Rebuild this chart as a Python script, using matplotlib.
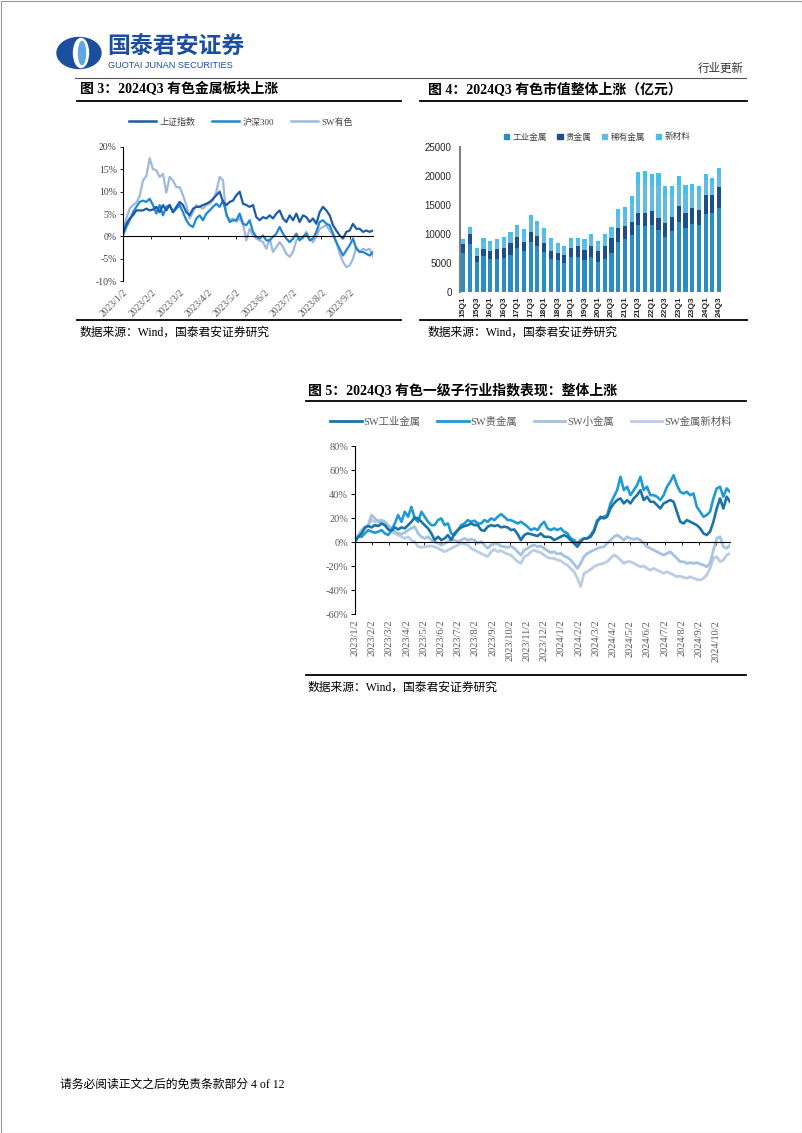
import numpy as np
import matplotlib
matplotlib.use("Agg")
import matplotlib.pyplot as plt
from matplotlib.patches import Patch, Ellipse, Rectangle
from matplotlib.lines import Line2D

W, H = 802, 1133
SERIF = ["Liberation Serif", "Noto Sans CJK SC"]
SANS = ["Liberation Sans", "Noto Sans CJK SC"]
CJK = ["Noto Sans CJK SC", "DejaVu Sans"]

# ---------------- 图3 数据 (%，2023/1/3 - 2023/9/28) ----------------
f3_ticks = ["2023/1/2", "2023/2/2", "2023/3/2", "2023/4/2", "2023/5/2",
            "2023/6/2", "2023/7/2", "2023/8/2", "2023/9/2"]
f3_end = 8.82  # 最后一个点距 2023/1/2 的月数
f3_sh = [0.6, 2.8, 4.0, 4.7, 5.8, 5.8, 5.8, 6.2, 5.8, 6.0,
         6.6, 5.4, 7.0, 5.8, 7.0, 5.4, 6.6, 7.7, 7.0, 5.4,
         4.7, 6.2, 6.6, 6.6, 7.0, 7.3, 7.7, 8.4, 9.2, 10.0,
         7.7, 7.0, 7.7, 8.0, 9.2, 10.0, 7.3, 7.0, 6.6, 7.0,
         4.3, 3.6, 4.3, 4.0, 4.7, 4.0, 5.1, 5.8, 4.0, 3.2,
         4.7, 3.6, 5.1, 3.2, 4.7, 4.3, 3.2, 4.0, 2.8, 5.4,
         6.6, 5.8, 4.7, 2.5, 1.3, 0.2, -0.5, 1.0, 1.3, 2.8,
         1.7, 1.7, 1.0, 1.3, 1.0, 1.3]
f3_hs300 = [0.2, 2.1, 3.6, 5.4, 6.6, 7.7, 8.0, 7.7, 8.4, 7.0,
            5.1, 7.0, 4.7, 6.6, 7.0, 5.4, 6.2, 7.0, 5.4, 3.6,
            2.5, 2.1, 4.0, 4.7, 3.6, 5.1, 5.8, 6.6, 7.3, 6.6,
            8.0, 5.1, 3.2, 3.6, 3.6, 5.1, 2.8, 2.5, 3.6, 1.0,
            -0.1, -0.5, 0.2, -0.9, -0.9, -0.1, 0.6, 2.1, 0.6, -0.5,
            -1.3, -0.5, 0.6, -0.9, -0.1, 0.6, -0.9, -0.5, 1.0, 3.2,
            3.6, 2.8, 2.5, 0.6, -1.3, -2.8, -4.3, -3.1, -2.0, -0.5,
            -2.8, -3.5, -3.5, -3.9, -4.3, -3.5]
f3_sw = [1.3, 4.0, 6.2, 7.0, 7.5, 9.0, 12.5, 13.5, 17.5, 15.0,
         14.8, 13.3, 14.0, 9.8, 13.3, 12.5, 11.0, 11.0, 9.2, 7.0,
         4.0, 5.4, 7.0, 6.6, 6.2, 7.0, 7.3, 8.0, 10.0, 13.3,
         12.5, 4.5, 3.6, 4.0, 3.2, 4.0, 2.8, -0.9, 1.7, 0.2,
         -0.5, -0.9, -1.3, -2.8, -0.5, -3.5, -2.4, -1.3, -2.4, -3.9,
         -4.6, -3.5, -0.9, -0.1, -0.5, 1.0, -0.5, -1.3, -0.1, 1.7,
         2.1, 2.5, 1.3, 0.2, -1.3, -3.9, -5.7, -6.9, -6.5, -5.0,
         -2.4, -3.5, -2.8, -3.1, -2.8, -4.6]

# ---------------- 图4 数据 (亿元) ----------------
f4_q = ["15Q1", "15Q2", "15Q3", "15Q4", "16Q1", "16Q2", "16Q3", "16Q4",
        "17Q1", "17Q2", "17Q3", "17Q4", "18Q1", "18Q2", "18Q3", "18Q4",
        "19Q1", "19Q2", "19Q3", "19Q4", "20Q1", "20Q2", "20Q3", "20Q4",
        "21Q1", "21Q2", "21Q3", "21Q4", "22Q1", "22Q2", "22Q3", "22Q4",
        "23Q1", "23Q2", "23Q3", "23Q4", "24Q1", "24Q2", "24Q3"]
f4_ind = [6700, 8200, 5100, 6200, 5700, 5700, 5800, 6400, 7650, 7100,
          8600, 8000, 6900, 5700, 5500, 5000, 6050, 6000, 5450, 6100,
          5150, 5700, 6800, 8700, 9150, 9850, 11550, 11450, 11550, 10700,
          9550, 10550, 12000, 11000, 11750, 11550, 13500, 13600, 14550]
f4_prec = [1500, 1750, 1150, 1250, 1400, 1750, 1750, 2000, 1850, 1600,
           1800, 1650, 1550, 1400, 1200, 1400, 1600, 1850, 1850, 1900,
           1950, 2250, 2450, 2300, 2250, 2150, 2150, 2100, 2400, 2100,
           2300, 2300, 2800, 2600, 2800, 2600, 3200, 3200, 3550]
f4_rare = [600, 850, 900, 1250, 1150, 1200, 1400, 1300, 1450, 1450,
           2000, 1850, 1800, 1500, 1200, 1000, 1150, 1000, 1250, 1350,
           1200, 1400, 1400, 2300, 2300, 3200, 4900, 5100, 4500, 5400,
           4500, 3800, 3600, 3350, 2800, 2850, 2600, 2000, 2300]
f4_new = [300, 400, 400, 550, 550, 550, 600, 600, 650, 650,
          850, 800, 800, 670, 550, 450, 500, 450, 550, 600,
          550, 600, 600, 1000, 1000, 1400, 2100, 2150, 1950, 2300,
          1950, 1650, 1550, 1450, 1200, 1250, 1100, 900, 1000]

# ---------------- 图5 数据 (%，2023/1/3 - 2024/10 末) ----------------
f5_ticks = ["2023/1/2", "2023/2/2", "2023/3/2", "2023/4/2", "2023/5/2", "2023/6/2",
            "2023/7/2", "2023/8/2", "2023/9/2", "2023/10/2", "2023/11/2", "2023/12/2",
            "2024/1/2", "2024/2/2", "2024/3/2", "2024/4/2", "2024/5/2", "2024/6/2",
            "2024/7/2", "2024/8/2", "2024/9/2", "2024/10/2"]
f5_end = 21.8
f5_ind = [1.9, 4.7, 7.5, 12.5, 13.6, 12.5, 14.4, 13.6, 15.8, 14.4,
          10.8, 9.7, 12.5, 10.8, 12.5, 11.7, 14.4, 17.2, 20.8, 20.0,
          17.2, 14.4, 11.7, 7.5, 1.9, 4.7, 1.9, 3.3, 6.1, 1.9,
          7.5, 10.3, 12.5, 13.6, 14.4, 15.8, 14.4, 14.4,
          10.3, 9.7, 13.1, 14.4, 13.6, 14.4, 12.5, 13.1, 12.5, 10.3,
          10.8, 6.9, 1.9, 6.1, 7.5, 6.9, 6.1, 5.3, 7.5, 4.7,
          4.7, 4.2, 1.9, 3.3, 4.7, 6.1, 4.7, 1.9, -0.8, -3.6,
          0.6, 3.3, 3.3, 4.7, 8.9, 17.2, 21.4,
          20.0, 21.4, 28.3, 32.5, 35.3, 36.7, 32.5, 35.3, 32.5, 36.7,
          39.4, 43.6, 35.3, 38.1, 33.9, 33.9, 31.1, 28.3, 32.5, 33.9,
          35.3, 33.9, 25.6, 17.2, 15.8, 18.6, 17.2, 15.8, 14.4, 11.7,
          7.5, 6.1, 9.0, 17.2, 28.3, 36.7, 28.3, 38.1, 33.9]
f5_gold = [0.0, 4.7, 4.7, 7.5, 10.3, 8.9, 8.1, 8.9, 10.3, 7.5,
           6.1, 10.3, 15.8, 22.8, 17.2, 25.6, 21.4, 29.7, 20.0, 17.2,
           25.6, 21.4, 17.2, 14.4, 14.4, 18.6, 20.0, 14.4, 15.8, 7.5,
           6.1, 10.3, 14.4, 15.8, 18.6, 17.2, 18.1, 15.8,
           15.8, 18.6, 17.2, 20.0, 18.6, 21.4, 23.6, 21.4, 18.6, 18.6,
           17.2, 15.8, 17.2, 15.3, 13.1, 10.3, 11.7, 10.3, 14.4, 17.2,
           11.7, 10.3, 11.7, 10.3, 11.7, 8.9, 7.5, 3.3, 1.9, -0.8,
           1.9, 3.3, 3.3, 6.1, 10.3, 18.6, 20.0,
           21.4, 22.8, 32.5, 38.1, 43.6, 54.7, 43.6, 46.4, 39.4, 43.6,
           47.8, 54.7, 43.6, 46.4, 39.4, 39.4, 38.1, 35.3, 39.4, 46.4,
           50.6, 56.1, 47.8, 42.2, 40.8, 42.2, 39.4, 40.8, 29.7, 25.6,
           21.4, 22.8, 25.6, 36.7, 45.0, 46.4, 38.1, 45.0, 42.2]
f5_small = [1.9, 6.1, 10.3, 12.5, 14.4, 22.8, 20.0, 17.2, 18.6, 17.2,
            14.4, 11.7, 8.9, 7.5, 6.9, 8.1, 10.3, 11.7, 13.1, 7.5,
            4.7, 3.3, 4.7, 1.9, 0.6, -0.8, -2.2, -0.8, 0.6, 2.5,
            1.9, 0.6, 1.9, 3.3, 1.9, 2.5, 1.9, -0.8,
            0.6, -2.2, -5.0, -2.2, -0.8, -1.4, -3.1, -3.6, -4.2, -3.1,
            -5.0, -7.8, -10.6, -6.4, -5.0, -3.1, -2.2, -3.6, -3.1, -5.0,
            -6.9, -8.6, -7.8, -9.7, -9.2, -11.4, -12.5, -14.7, -18.1, -21.7,
            -17.5, -11.9, -9.2, -7.8, -6.4, -5.0, -4.2,
            -3.6, -0.8, 1.9, 4.7, 6.1, 4.2, 1.9, 4.7, 3.3, 2.5,
            3.3, 1.9, -0.8, -3.6, -5.0, -6.4, -7.8, -9.2, -10.6, -9.2,
            -7.8, -10.6, -13.3, -16.1, -16.1, -17.5, -16.9, -17.5, -16.9, -18.1,
            -18.9, -20.3, -17.5, -6.4, 3.3, 4.7, -3.6, -5.0, -2.2]
f5_new = [1.9, 4.7, 8.9, 11.7, 14.4, 18.6, 17.2, 18.6, 15.8, 14.4,
          12.5, 8.9, 7.5, 6.1, 4.7, 3.3, 4.7, 1.9, 0.6, -3.6,
          -4.2, -3.6, -3.1, -3.1, -3.6, -5.0, -6.4, -7.8, -6.4, -5.0,
          -3.6, -2.2, -0.8, -1.4, -2.2, -5.0, -6.4, -7.8,
          -9.2, -10.6, -11.9, -7.8, -5.8, -7.8, -6.9, -8.6, -9.7, -10.6,
          -13.3, -16.1, -17.5, -11.9, -10.6, -7.8, -6.4, -7.8, -8.6, -10.6,
          -12.5, -13.3, -13.3, -14.7, -15.3, -17.5, -18.9, -21.7, -24.4, -30.0,
          -36.9, -25.8, -24.4, -22.5, -20.3, -18.9, -18.1,
          -17.5, -16.1, -13.3, -10.6, -11.9, -14.7, -17.5, -16.1, -16.1, -17.5,
          -18.9, -20.3, -19.7, -21.7, -23.1, -21.7, -23.1, -24.4, -25.8, -24.4,
          -25.8, -27.2, -28.6, -28.1, -29.2, -30.0, -28.6, -30.0, -30.8, -31.4,
          -30.0, -27.2, -21.7, -13.3, -11.9, -16.1, -14.7, -10.6, -9.2]


def box(x0, y0, x1, y1):
    # 像素坐标 (左上原点) -> figure 坐标
    return [x0 / W, 1 - y1 / H, (x1 - x0) / W, (y1 - y0) / H]


def fpt(x, y):
    return (x / W, 1 - y / H)


fig = plt.figure(figsize=(W / 100, H / 100), dpi=100)

# ---------------- 页面 ----------------
page = fig.add_axes([0, 0, 1, 1])
page.set_xlim(0, W)
page.set_ylim(H, 0)
page.axis("off")
page.add_patch(Rectangle((0.5, 0.5), W - 1, H - 1, fill=False, ec="#9a9a9a", lw=0.8))

# logo
page.add_patch(Ellipse((79, 53), 44, 31, color="#1B4F9E"))
page.add_patch(Ellipse((81, 53), 15, 29, color="white"))
page.add_patch(Ellipse((82, 53), 7, 23, color="#5FA7E3"))
page.text(107, 47.5, "国泰君安证券", family=CJK, fontsize=16.5, fontweight="bold",
          color="#1B4F9E", ha="left", va="center")
page.text(108, 65, "GUOTAI JUNAN SECURITIES", family=SANS, fontsize=6.6,
          color="#1B4F9E", ha="left", va="center")
page.text(744, 68, "行业更新", family=CJK, fontsize=8.3, color="#333333",
          ha="right", va="center")
page.plot([75, 746], [77.5, 77.5], color="#555555", lw=0.8)

title_kw = dict(family=SERIF, fontsize=10, fontweight="bold", color="black",
                ha="left", va="center")
src_kw = dict(family=SERIF, fontsize=8.5, color="black", ha="left", va="center")
page.text(80, 89, "图 3：2024Q3 有色金属板块上涨", **title_kw)
page.text(428, 89, "图 4：2024Q3 有色市值整体上涨（亿元）", **title_kw)
page.text(308, 390, "图 5：2024Q3 有色一级子行业指数表现：整体上涨", **title_kw)
for x0, x1, y in [(77, 401, 101), (420, 747, 101), (77, 401, 320),
                  (420, 747, 320), (306, 746, 401), (306, 746, 675)]:
    page.plot([x0, x1], [y, y], color="black", lw=1.3)
page.text(80, 333, "数据来源：Wind，国泰君安证券研究", **src_kw)
page.text(428, 333, "数据来源：Wind，国泰君安证券研究", **src_kw)
page.text(308, 688, "数据来源：Wind，国泰君安证券研究", **src_kw)
page.text(60, 1085, "请务必阅读正文之后的免责条款部分 4 of 12", family=SERIF,
          fontsize=8.5, color="black", ha="left", va="center")

# ---------------- 图3 ----------------
C_SH, C_HS, C_SW = "#1C5CA8", "#1E88D2", "#9FB8E0"
ax3 = fig.add_axes(box(123, 147, 373, 281))
x3 = np.linspace(0, f3_end, len(f3_sh))
ax3.plot(x3, f3_sw, color=C_SW, lw=1.6, label="SW有色")
ax3.plot(x3, f3_hs300, color=C_HS, lw=1.6, label="沪深300")
ax3.plot(x3, f3_sh, color=C_SH, lw=1.6, label="上证指数")
ax3.set_xlim(0, f3_end)
ax3.set_ylim(-10, 20)
ax3.set_yticks(range(-10, 21, 5))
ax3.set_yticklabels([f"{v}%" for v in range(-10, 21, 5)], family=SERIF,
                    fontsize=7, color="#404040")
ax3.tick_params(axis="y", length=2.5, width=0.6, pad=2)
for s in ["top", "right"]:
    ax3.spines[s].set_visible(False)
ax3.spines["left"].set_linewidth(0.8)
ax3.spines["bottom"].set_position(("data", 0))
ax3.spines["bottom"].set_linewidth(0.8)
ax3.set_xticks(range(len(f3_ticks)))
ax3.tick_params(axis="x", labelbottom=False, length=2, width=0.6)
sec3 = ax3.secondary_xaxis("bottom")
sec3.set_xticks(range(len(f3_ticks)), labels=f3_ticks, rotation=45, ha="right",
                rotation_mode="anchor", family=SERIF, fontsize=7, color="#595959")
sec3.tick_params(length=0, pad=5)
sec3.spines["bottom"].set_visible(False)
h3 = [Line2D([], [], color=c, lw=1.8) for c in (C_SH, C_HS, C_SW)]
fig.legend(h3, ["上证指数", "沪深300", "SW有色"], loc="center",
           bbox_to_anchor=fpt(241, 122), ncol=3, frameon=False,
           prop=dict(family=SERIF, size=6.5), labelcolor="#404040",
           handlelength=3.0, handletextpad=0.4, columnspacing=1.8)

# ---------------- 图4 ----------------
C_IND, C_PREC, C_RARE, C_NEW = "#2A8DC5", "#1F4E8E", "#62BBE0", "#45C0EC"
ax4 = fig.add_axes(box(460, 147, 722.5, 292))
xs = np.arange(len(f4_q))
b1 = np.array(f4_ind)
b2 = b1 + np.array(f4_prec)
b3 = b2 + np.array(f4_rare)
ax4.bar(xs, f4_ind, width=0.62, color=C_IND)
ax4.bar(xs, f4_prec, width=0.62, bottom=b1, color=C_PREC)
ax4.bar(xs, f4_rare, width=0.62, bottom=b2, color=C_RARE)
ax4.bar(xs, f4_new, width=0.62, bottom=b3, color=C_NEW)
ax4.set_xlim(-0.5, len(f4_q) - 0.5)
ax4.set_ylim(0, 25000)
ax4.set_yticks(range(0, 25001, 5000))
ax4.set_yticklabels([str(v) for v in range(0, 25001, 5000)], family=SANS,
                    fontsize=7, color="#262626")
ax4.set_xticks(xs[::2])
ax4.set_xticklabels(f4_q[::2], rotation=90, family=SANS, fontsize=6,
                    fontweight="bold", color="#262626")
ax4.tick_params(axis="both", length=0)
ax4.tick_params(axis="y", pad=6)
ax4.tick_params(axis="x", pad=3)
for s in ["top", "right", "bottom"]:
    ax4.spines[s].set_visible(False)
ax4.spines["left"].set_color("#808080")
ax4.spines["left"].set_linewidth(1.5)
h4 = [Patch(color=c) for c in (C_IND, C_PREC, C_RARE, C_NEW)]
fig.legend(h4, ["工业金属", "贵金属", "稀有金属", "新材料"], loc="center",
           bbox_to_anchor=fpt(597, 137), ncol=4, frameon=False,
           prop=dict(family=CJK, size=6.2), labelcolor="#404040",
           handlelength=0.6, handleheight=0.6, handletextpad=0.4,
           columnspacing=1.2)

# ---------------- 图5 ----------------
C5_IND, C5_GOLD, C5_SMALL, C5_NEW = "#1B74A8", "#1F9BD3", "#A5C2E0", "#B9CDE5"
ax5 = fig.add_axes(box(355, 446.5, 730, 614.3))
x5 = np.linspace(0, f5_end, len(f5_ind))
ax5.plot(x5, f5_new, color=C5_NEW, lw=2.0)
ax5.plot(x5, f5_small, color=C5_SMALL, lw=2.0)
ax5.plot(x5, f5_gold, color=C5_GOLD, lw=1.9)
ax5.plot(x5, f5_ind, color=C5_IND, lw=1.9)
ax5.set_xlim(0, f5_end)
ax5.set_ylim(-60, 80)
ax5.set_yticks(range(-60, 81, 20))
ax5.set_yticklabels([f"{v}%" for v in range(-60, 81, 20)], family=SERIF,
                    fontsize=7.5, color="#595959")
ax5.tick_params(axis="y", length=3, width=0.7, pad=2)
for s in ["top", "right"]:
    ax5.spines[s].set_visible(False)
ax5.spines["left"].set_linewidth(0.8)
ax5.spines["bottom"].set_position(("data", 0))
ax5.spines["bottom"].set_linewidth(0.8)
ax5.set_xticks(range(len(f5_ticks)))
ax5.tick_params(axis="x", labelbottom=False, length=2, width=0.6)
sec5 = ax5.secondary_xaxis("bottom")
sec5.set_xticks(range(len(f5_ticks)), labels=f5_ticks, rotation=90, ha="center",
                va="top", family=SERIF, fontsize=7.5, color="#595959")
sec5.tick_params(length=0, pad=4)
sec5.spines["bottom"].set_visible(False)
h5 = [Line2D([], [], color=c, lw=2.0) for c in (C5_IND, C5_GOLD, C5_SMALL, C5_NEW)]
fig.legend(h5, ["SW工业金属", "SW贵金属", "SW小金属", "SW金属新材料"], loc="center",
           bbox_to_anchor=fpt(531, 421.5), ncol=4, frameon=False,
           prop=dict(family=SERIF, size=7.5), labelcolor="#595959",
           handlelength=3.0, handletextpad=0.2, columnspacing=1.6)

fig.savefig("out.png", dpi=100)
